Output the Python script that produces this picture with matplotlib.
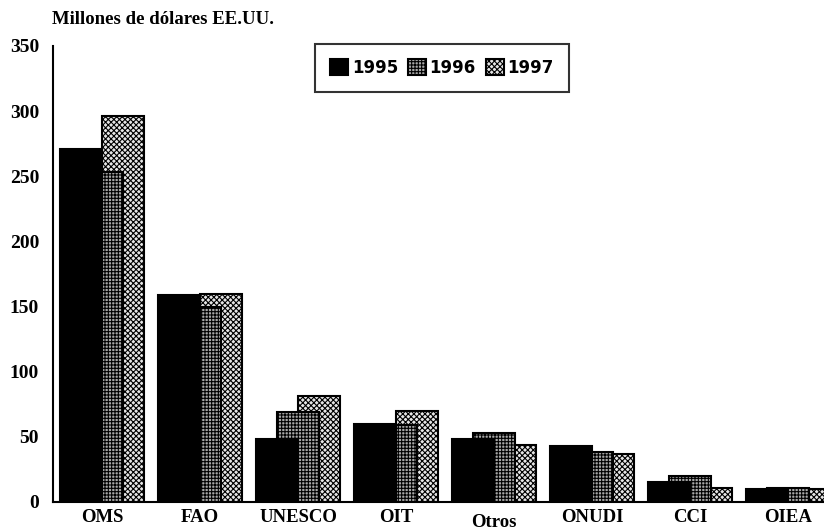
import matplotlib
matplotlib.use("Agg")
import matplotlib.pyplot as plt
import numpy as np

categories = ["OMS", "FAO", "UNESCO", "OIT", "Otros", "ONUDI", "CCI", "OIEA"]
years = ["1995", "1996", "1997"]
v1995 = [271, 159, 48, 60, 48, 43, 15, 10]
v1996 = [253, 150, 69, 59, 53, 38, 20, 11]
v1997 = [296, 160, 81, 70, 44, 37, 11, 10]
yticks = [0, 50, 100, 150, 200, 250, 300, 350]

plt.rcParams['hatch.linewidth'] = 0.8

W, H = 824, 530
fig = plt.figure(figsize=(W / 100, H / 100), dpi=100)
ax = fig.add_axes([53 / W, (H - 502) / H, 784 / W, 456 / H])

x = np.arange(len(categories))
bw = 0.43
off = 0.215
series = [v1995, v1996, v1997]
styles = [
    dict(facecolor="black", hatch=None, zorder=3),
    dict(facecolor="#a8a8a8", hatch="+++++", zorder=2),
    dict(facecolor="#e6e6e6", hatch="xxxxxx", zorder=1),
]
handles = []
for i, (vals, st) in enumerate(zip(series, styles)):
    b = ax.bar(x + (i - 1) * off, vals, width=bw, facecolor=st["facecolor"],
               hatch=st["hatch"], edgecolor="black", linewidth=1.5,
               zorder=st["zorder"], label=years[i])
    handles.append(b)

ax.set_xlim(-0.5, len(categories) - 0.5)
ax.set_ylim(0, 350)
ax.set_yticks(yticks)
ax.set_yticklabels([str(t) for t in yticks], fontfamily="Liberation Serif",
                   fontweight="bold", fontsize=14)
ax.set_xticks(x)
ax.set_xticklabels(categories, fontfamily="Liberation Serif", fontweight="bold",
                   fontsize=13.5)
ax.tick_params(axis="y", length=0, pad=10)
ax.tick_params(axis="x", length=0, pad=5)
for lbl in ax.get_xticklabels():
    if lbl.get_text() == "Otros":
        lbl.set_y(-0.012)
for s in ["top", "right"]:
    ax.spines[s].set_visible(False)
ax.spines["left"].set_linewidth(1.5)
ax.spines["bottom"].set_linewidth(1.5)

fig.text(52 / W, 1 - 20 / H, "Millones de dólares EE.UU.", fontfamily="Liberation Serif",
         fontweight="bold", fontsize=13.5, ha="left", va="center")

leg = fig.legend(handles=handles, labels=years, loc="center",
                 bbox_to_anchor=(442 / W, 1 - 68 / H), ncol=3, frameon=True,
                 fancybox=False, edgecolor="black", handlelength=1.1,
                 handleheight=1.1, handletextpad=0.2, columnspacing=0.6,
                 borderpad=0.9, prop=dict(family="DejaVu Sans", weight="bold", size=12))
leg.get_frame().set_linewidth(1.5)

fig.savefig("out.png", dpi=100)
